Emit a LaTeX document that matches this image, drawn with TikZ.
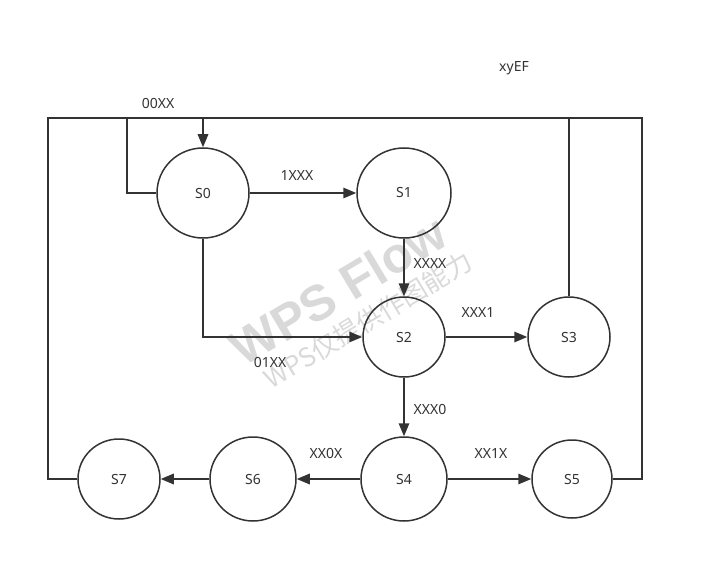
\documentclass[tikz,border=0pt]{standalone}
\usepackage{fontspec}
\setmainfont{Noto Sans}
\newfontfamily\cjkwm{Noto Sans CJK SC}
\newfontfamily\wmfont{Liberation Sans}
\usetikzlibrary{shapes.geometric,arrows.meta}
\definecolor{ink}{HTML}{333333}
\tikzset{
  state/.style={ellipse,draw=ink,line width=1.5pt,inner sep=0pt,text=ink,font=\fontsize{14}{16}\selectfont},
  wire/.style={draw=ink,line width=1.6pt},
  arr/.style={wire,-{Triangle[length=13pt,width=10.5pt]}},
  lbl/.style={text=ink,font=\fontsize{14}{16}\selectfont,inner sep=0pt},
  wm/.style={text=black!15,inner sep=0pt}
}
\begin{document}
\begin{tikzpicture}[x=1pt,y=-1pt]
\useasboundingbox (0,0) rectangle (704,583);
% watermark
\node[wm,rotate=31,font=\wmfont\bfseries\fontsize{50}{54}\selectfont] (wm1) at (338,290) {WPS Flow};
\node[wm,rotate=31,font=\cjkwm\fontsize{26}{28}\selectfont] (wm2) at (368,320) {WPS仅提供作图能力};
% states
\node[state,minimum width=92pt,minimum height=90pt] (s0) at (203,193) {S0};
\node[state,minimum width=94pt,minimum height=90pt] (s1) at (404,193) {S1};
\node[state,minimum width=82pt,minimum height=80pt] (s2) at (404,337) {S2};
\node[state,minimum width=82pt,minimum height=80pt] (s3) at (569,337) {S3};
\node[state,minimum width=86pt,minimum height=84pt] (s4) at (404,479) {S4};
\node[state,minimum width=80pt,minimum height=78pt] (s5) at (572,479) {S5};
\node[state,minimum width=86pt,minimum height=84pt] (s6) at (253,479) {S6};
\node[state,minimum width=82pt,minimum height=80pt] (s7) at (119,479) {S7};
% corner coordinates
\coordinate (tl) at (48,118);
\coordinate (tr) at (642,118);
\coordinate (bl) at (48,479);
\coordinate (br) at (642,479);
\coordinate (t0) at (203,118);
\coordinate (t3) at (569,118);
\coordinate (loopa) at (127,193);
\coordinate (loopb) at (127,118);
\coordinate (c02) at (203,337);
% bus
\draw[wire] (s7.west) -- (bl) -- (tl) -- (tr) -- (br) -- (s5.east);
\draw[wire] (s3.north) -- (t3);
\draw[wire] (s0.west) -- (loopa) -- (loopb);
\draw[arr] (t0) -- (s0.north);
% transitions
\draw[arr] (s0) -- (s1);
\draw[arr] (s1) -- (s2);
\draw[arr] (s0.south) -- (c02) -- (s2.west);
\draw[arr] (s2) -- (s3);
\draw[arr] (s2) -- (s4);
\draw[arr] (s4) -- (s5);
\draw[arr] (s4) -- (s6);
\draw[arr] (s6) -- (s7);
% labels
\node[lbl] (l00) at (158,103) {00XX};
\node[lbl] (lxy) at (514,68) {xyEF};
\node[lbl] (l1x) at (297,176) {1XXX};
\node[lbl] (lxx) at (430,264) {XXXX};
\node[lbl] (l01) at (270,362) {01XX};
\node[lbl] (lx1) at (478,312) {XXX1};
\node[lbl] (lx0) at (430,409) {XXX0};
\node[lbl] (l1xx) at (491,453) {XX1X};
\node[lbl] (l0xx) at (326,453) {XX0X};
\end{tikzpicture}
\end{document}
